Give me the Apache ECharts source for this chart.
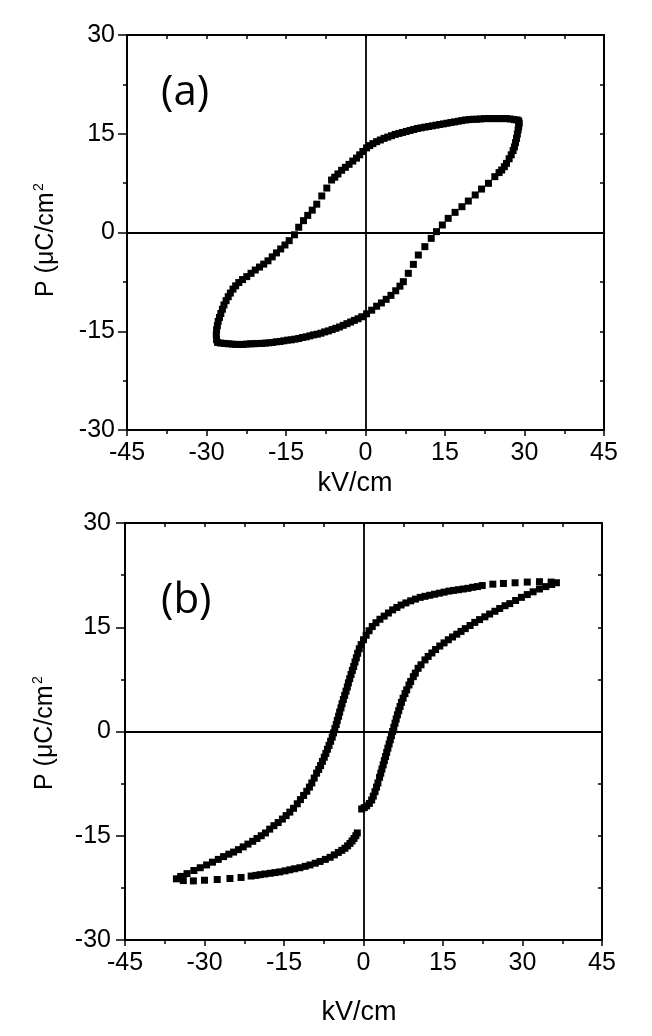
<!DOCTYPE html>
<html>
<head>
<meta charset="utf-8">
<script src="https://cdn.jsdelivr.net/npm/echarts@6/dist/echarts.min.js"></script>
<style>
html,body{margin:0;padding:0;background:#fff;}
#c{width:652px;height:1036px;}
</style>
</head>
<body>
<div id="c"></div>
<script>
// ---- tick labels ----
const xTickValues = [-45, -30, -15, 0, 15, 30, 45];
const yTickValues = [-30, -15, 0, 15, 30];
const xAxisName = 'kV/cm';
const yAxisName = 'P (\u03bcC/cm';
const yAxisSup = '2';
const panelLabels = ['(a)', '(b)'];

// ---- panel (a): P-E loop, [E (kV/cm), P (uC/cm2)] ----
const loopA_down = [
  [29.0,16.6],[28.9,16.95],[28.6,17.1],[28.0,17.15],[27.3,17.25],[26.6,17.3],[25.9,17.3],[25.2,17.3],
  [24.5,17.3],[23.8,17.3],[23.1,17.3],[22.4,17.3],[21.7,17.25],[21.0,17.2],[20.3,17.2],[19.6,17.15],
  [18.9,17.1],[18.2,17.0],[17.5,16.9],[16.8,16.8],[16.1,16.7],[15.4,16.6],[14.7,16.5],[14.0,16.4],
  [13.3,16.3],[12.6,16.2],[11.9,16.1],[11.2,16.0],[10.5,15.9],[9.8,15.8],[9.1,15.65],[8.4,15.5],
  [7.7,15.35],[7.0,15.2],[6.3,15.05],[5.6,14.9],[4.9,14.7],[4.2,14.5],[3.5,14.3],[2.8,14.05],
  [2.1,13.8],[1.4,13.5],[0.8,13.2],[0.2,12.85],[-0.5,12.3],[-1.1,11.8],[-1.7,11.3],[-2.4,10.85],
  [-3.1,10.35],[-3.8,9.9],[-4.5,9.45],[-5.2,8.9],[-5.8,8.4],[-6.4,7.97],[-7.3,6.75],[-8.25,5.55],
  [-9.2,4.3],[-10.05,3.4],[-10.9,2.6],[-11.7,1.8],[-12.6,0.8],[-13.4,-0.35],[-14.4,-1.24],[-15.2,-1.9],
  [-16.0,-2.5],[-16.8,-3.1],[-17.6,-3.7],[-18.4,-4.3],[-19.2,-4.8],[-20.0,-5.25],[-20.8,-5.7],[-21.6,-6.2],
  [-22.4,-6.7],[-23.2,-7.15],[-23.9,-7.6],[-24.5,-8.1],[-25.0,-8.6],[-25.5,-9.2],[-25.9,-9.75],[-26.3,-10.35],
  [-26.7,-11.0],[-27.0,-11.65],[-27.3,-12.3],[-27.55,-12.9],[-27.8,-13.5],[-27.95,-14.15],[-28.1,-14.8],
  [-28.15,-15.55],[-28.1,-16.3]
];
const loopA_up = [
  [-27.9,-16.7],[-27.3,-16.8],[-26.6,-16.85],[-25.9,-16.9],[-25.2,-16.95],[-24.5,-17.0],[-23.8,-17.0],
  [-23.1,-17.0],[-22.4,-16.95],[-21.7,-16.9],[-21.0,-16.9],[-20.3,-16.85],[-19.6,-16.85],[-18.9,-16.8],
  [-18.2,-16.75],[-17.5,-16.7],[-16.8,-16.6],[-16.1,-16.55],[-15.4,-16.45],[-14.7,-16.35],[-14.0,-16.3],
  [-13.3,-16.2],[-12.6,-16.1],[-11.9,-15.95],[-11.2,-15.85],[-10.5,-15.7],[-9.8,-15.55],[-9.1,-15.45],
  [-8.4,-15.3],[-7.7,-15.1],[-7.0,-14.95],[-6.3,-14.75],[-5.6,-14.55],[-4.9,-14.35],[-4.2,-14.1],
  [-3.5,-13.85],[-2.8,-13.6],[-2.1,-13.35],[-1.4,-13.1],[-0.7,-12.8],[0.2,-12.35],[1.17,-11.8],
  [2.1,-11.2],[3.0,-10.7],[3.9,-10.15],[4.8,-9.55],[5.7,-8.85],[6.5,-8.15],[7.14,-7.47],[8.08,-6.2],
  [9.03,-4.84],[9.97,-3.42],[11.2,-2.15],[12.4,-0.89],[13.4,0.13],[14.5,1.14],[15.6,2.15],[16.9,3.06],
  [18.2,3.92],[19.4,4.78],[20.7,5.7],[21.9,6.6],[23.2,7.47],[24.4,8.48],[25.2,9.1],[25.7,9.49],
  [26.2,10.0],[26.6,10.5],[27.1,11.2],[27.5,11.8],[27.85,12.45],[28.1,13.0],[28.3,13.65],[28.5,14.3],
  [28.65,14.95],[28.8,15.6],[28.9,16.1]
];

// ---- panel (b): P-E loop ----
const loopB_rise = [
  [-0.34,-11.15],[0.15,-10.95],[0.6,-10.7],[1.1,-10.35],[1.54,-9.86],[1.85,-9.3],[2.17,-8.66],[2.46,-8.0],
  [2.72,-7.4],[3.03,-6.6],[3.26,-6.0],[3.48,-5.4],[3.71,-4.8],[3.93,-4.2],[4.16,-3.6],[4.38,-3.0],
  [4.6,-2.4],[4.83,-1.8],[5.05,-1.2],[5.27,-0.6],[5.5,0.0],[5.72,0.6],[5.95,1.2],[6.17,1.8],
  [6.4,2.4],[6.65,3.0],[6.9,3.6],[7.16,4.2],[7.47,4.8],[7.83,5.45],[8.15,6.0],[8.58,6.69],
  [8.9,7.2],[9.4,7.89],[9.78,8.4],[10.3,9.09],[10.85,9.6],[11.6,10.3],[12.2,10.8],[12.9,11.3],
  [13.6,11.8],[14.4,12.3],[15.2,12.75],[16.0,13.2],[16.8,13.6],[17.6,14.0],[18.4,14.4],[19.2,14.8],
  [20.1,15.25],[21.0,15.7],[21.9,16.1],[22.9,16.5],[23.8,16.9],[24.8,17.3],[25.7,17.7],[26.7,18.1],
  [27.6,18.4],[28.7,18.85],[29.8,19.3],[30.9,19.7],[32.0,20.1],[33.2,20.5],[34.4,20.85],[35.5,21.15],
  [36.4,21.4]
];
const loopB_down = [
  [35.4,21.5],[33.2,21.55],[30.9,21.5],[28.6,21.4],[26.4,21.3],[24.4,21.2],[22.4,21.0],[21.5,20.85],
  [20.6,20.75],[19.7,20.6],[18.8,20.5],[17.9,20.4],[17.0,20.3],[16.1,20.2],[15.2,20.05],[14.3,19.9],
  [13.4,19.75],[12.5,19.6],[11.6,19.45],[10.7,19.3],[9.8,19.05],[8.9,18.8],[8.0,18.5],[7.1,18.2],
  [6.3,17.85],[5.5,17.5],[4.7,17.05],[3.9,16.6],[3.1,16.15],[2.35,15.65],[1.65,15.1],[1.05,14.5],
  [0.5,13.85],[0.0,13.2],[-0.45,12.5],[-0.8,11.9],[-1.1,11.25],[-1.35,10.6],[-1.6,10.0],[-1.85,9.35],
  [-2.1,8.8],[-2.35,8.2],[-2.6,7.6],[-2.85,7.0],[-3.05,6.4],[-3.3,5.8],[-3.55,5.2],[-3.8,4.6],
  [-4.05,4.0],[-4.25,3.4],[-4.5,2.8],[-4.7,2.2],[-4.95,1.6],[-5.15,1.0],[-5.4,0.4],[-5.65,-0.2],
  [-5.9,-0.8],[-6.2,-1.4],[-6.5,-2.0],[-6.8,-2.55],[-7.1,-3.15],[-7.4,-3.7],[-7.75,-4.3],[-8.1,-4.9],
  [-8.45,-5.45],[-8.85,-6.0],[-9.3,-6.7],[-9.75,-7.4],[-10.2,-8.0],[-10.7,-8.6],[-11.3,-9.2],[-11.9,-9.8],
  [-12.5,-10.4],[-13.2,-11.05],[-13.9,-11.6],[-14.6,-12.1],[-15.3,-12.6],[-16.1,-13.1],[-16.9,-13.55],
  [-17.7,-14.05],[-18.5,-14.6],[-19.3,-15.0],[-20.1,-15.4],[-20.9,-15.8],[-21.8,-16.2],[-22.7,-16.6],
  [-23.6,-17.0],[-24.5,-17.35],[-25.4,-17.65],[-26.4,-18.0],[-27.4,-18.4],[-28.5,-18.8],[-29.6,-19.2],
  [-30.8,-19.6],[-32.0,-20.0],[-33.3,-20.45],[-34.5,-20.85],[-35.3,-21.2]
];
const loopB_return = [
  [-34.0,-21.45],[-32.1,-21.5],[-30.0,-21.4],[-27.6,-21.3],[-25.2,-21.15],[-23.1,-21.0],[-21.2,-20.8],
  [-20.3,-20.7],[-19.5,-20.6],[-18.6,-20.5],[-17.6,-20.4],[-16.7,-20.3],[-15.8,-20.2],[-14.8,-20.05],
  [-13.9,-19.9],[-13.0,-19.75],[-12.0,-19.6],[-11.0,-19.4],[-10.1,-19.2],[-9.1,-18.95],[-8.2,-18.7],
  [-7.2,-18.4],[-6.3,-18.1],[-5.5,-17.75],[-4.75,-17.4],[-4.1,-17.1],[-3.5,-16.8],[-3.0,-16.45],
  [-2.55,-16.1],[-2.15,-15.75],[-1.79,-15.4],[-1.45,-15.0],[-1.17,-14.6]
];

// ---- build chart ----
const chart = echarts.init(document.getElementById('c'), null, {renderer: 'canvas'});
const BLACK = '#000';
const tickFont = '"Liberation Sans", Arial, sans-serif';
const xMin = xTickValues[0], xMax = xTickValues[xTickValues.length - 1], xStep = xTickValues[1] - xTickValues[0];
const yMin = yTickValues[0], yMax = yTickValues[yTickValues.length - 1], yStep = yTickValues[1] - yTickValues[0];

function axisLine() { return {show: true, onZero: false, lineStyle: {color: BLACK, width: 2}}; }

function mainX(gi) {
  return {type: 'value', gridIndex: gi, position: 'bottom', min: xMin, max: xMax, interval: xStep,
    axisLine: axisLine(),
    axisTick: {show: true, inside: false, length: 6, lineStyle: {color: BLACK, width: 1.5}},
    minorTick: {show: true, splitNumber: 2, length: 4, lineStyle: {color: BLACK, width: 1.5}},
    axisLabel: {color: BLACK, fontSize: 25, fontFamily: tickFont, margin: 11},
    splitLine: {show: false}, minorSplitLine: {show: false}};
}
function mirrorX(gi) {
  return {type: 'value', gridIndex: gi, position: 'top', min: xMin, max: xMax, interval: xStep / 2,
    axisLine: axisLine(),
    axisTick: {show: true, inside: true, length: 4, lineStyle: {color: BLACK, width: 1.5}},
    axisLabel: {show: false}, splitLine: {show: false}};
}
function mainY(gi, margin) {
  return {type: 'value', gridIndex: gi, position: 'left', min: yMin, max: yMax, interval: yStep,
    axisLine: axisLine(),
    axisTick: {show: true, inside: false, length: 9, lineStyle: {color: BLACK, width: 1.5}},
    minorTick: {show: true, splitNumber: 2, length: 4, lineStyle: {color: BLACK, width: 1.5}},
    axisLabel: {color: BLACK, fontSize: 25, fontFamily: tickFont, margin: margin},
    splitLine: {show: false}, minorSplitLine: {show: false}};
}
function mirrorY(gi) {
  return {type: 'value', gridIndex: gi, position: 'right', min: yMin, max: yMax, interval: yStep / 2,
    axisLine: axisLine(),
    axisTick: {show: true, inside: true, length: 4, lineStyle: {color: BLACK, width: 1.5}},
    axisLabel: {show: false}, splitLine: {show: false}};
}
function zeroLines() {
  return {silent: true, symbol: 'none', animation: false, label: {show: false},
    lineStyle: {color: BLACK, width: 1.8, type: 'solid'},
    emphasis: {disabled: true},
    data: [{xAxis: 0}, {yAxis: 0}]};
}
function pts(data, xi, yi, withZero) {
  const s = {type: 'scatter', xAxisIndex: xi, yAxisIndex: yi, data: data,
    symbol: 'rect', symbolSize: 7, itemStyle: {color: BLACK, opacity: 1},
    emphasis: {disabled: true}, silent: true};
  if (withZero) s.markLine = zeroLines();
  return s;
}
function label(text, x, y, font, align, rot) {
  return {type: 'text', x: x, y: y, rotation: rot || 0, silent: true,
    style: {text: text, x: 0, y: 0, font: font, fill: BLACK, textAlign: align || 'left', textVerticalAlign: 'middle'}};
}

const nameFont = '27px "Liberation Sans", Arial, sans-serif';
const yNameFont = '25px "Liberation Sans", Arial, sans-serif';
const supFont = '14px "Liberation Sans", Arial, sans-serif';
const panelFont = '42px "Open Sans", sans-serif';

chart.setOption({
  backgroundColor: '#fff',
  animation: false,
  grid: [
    {left: 127, top: 35, width: 477, height: 395, containLabel: false},
    {left: 125, top: 523, width: 477, height: 417, containLabel: false}
  ],
  xAxis: [mainX(0), mirrorX(0), mainX(1), mirrorX(1)],
  yAxis: [mainY(0, 12), mirrorY(0), mainY(1, 14), mirrorY(1)],
  series: [
    pts(loopA_down, 0, 0, true),
    pts(loopA_up, 0, 0, false),
    pts(loopB_rise, 2, 2, true),
    pts(loopB_down, 2, 2, false),
    pts(loopB_return, 2, 2, false)
  ],
  graphic: [
    label(panelLabels[0], 161, 93, panelFont, 'left'),
    label(panelLabels[1], 161, 601, panelFont, 'left'),
    label(xAxisName, 355, 484, nameFont, 'center'),
    label(xAxisName, 359, 1013, nameFont, 'center'),
    label(yAxisName, 46, 297, yNameFont, 'left', Math.PI / 2),
    label(yAxisSup, 39, 191, supFont, 'left', Math.PI / 2),
    label(yAxisName, 45, 790, yNameFont, 'left', Math.PI / 2),
    label(yAxisSup, 38, 684, supFont, 'left', Math.PI / 2)
  ]
});
</script>
</body>
</html>
